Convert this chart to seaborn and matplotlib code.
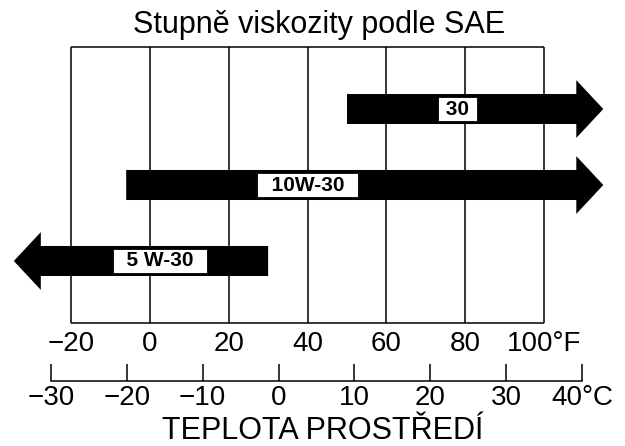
import matplotlib
matplotlib.use("Agg")
import numpy as np
import pandas as pd
import matplotlib.pyplot as plt
import seaborn as sns

# SAE grades and the temperature range each one covers (deg F)
grades = ["30", "10W-30", "5W-30"]
box_text = [" 30 ", "  10W-30  ", "  5 W-30  "]
start_f = [50, -6, 30]          # blunt end of the arrow
tip_f = [115, 115, -34.5]       # point of the arrow
label_f = [78, 40, 2.5]         # where the grade box sits

f_ticks = [-20, 0, 20, 40, 60, 80, 100]
f_labels = ["−20", "0", "20", "40", "60", "80", "100°F"]
c_ticks = [-30, -20, -10, 0, 10, 20, 30, 40]
c_labels = ["−30", "−20", "−10", "0", "10", "20", "30", "40°C"]

df = pd.DataFrame({"grade": grades, "text": box_text, "start": start_f,
                   "tip": tip_f, "label": label_f})

sns.set_theme(style="white")
plt.rcParams["font.family"] = ["Liberation Sans", "DejaVu Sans"]

fig = plt.figure(figsize=(6.25, 4.46), dpi=100)

# main panel, x in deg F, one row per grade
ax = fig.add_axes([0, 0.2758, 1, 0.6188])
ax.set_xlim(-38.0, 120.5)
y_lo, y_hi = 2.816, -0.816
ax.set_ylim(y_lo, y_hi)
for s in ax.spines.values():
    s.set_visible(False)
ax.patch.set_alpha(0)

ax.vlines(f_ticks, y_lo, y_hi, color="black", lw=1.1, clip_on=False)
ax.hlines([y_lo, y_hi], f_ticks[0], f_ticks[-1], color="black", lw=1.1, clip_on=False)

for i, r in df.iterrows():
    ax.arrow(r["start"], i, r["tip"] - r["start"], 0, width=0.395,
             head_width=0.76, head_length=6.85, length_includes_head=True,
             fc="black", ec="black", lw=0, zorder=3)
    ax.text(r["label"], i, r["text"], ha="center", va="center", fontsize=15,
            fontweight="bold", color="black", zorder=4,
            bbox=dict(boxstyle="square,pad=0.1", fc="white", ec="black", lw=0.6))

ax.set_xticks(f_ticks, f_labels)
ax.set_yticks([])
ax.tick_params(axis="x", bottom=True, length=0, pad=6, labelsize=20, labelcolor="black")

# Celsius scale underneath
axc = fig.add_axes([0, 0.1457, 1, 0.05])
axc.set_xlim(-36.72, 45.67)
axc.set_ylim(0, 1)
axc.patch.set_alpha(0)
for s in ["top", "left", "right"]:
    axc.spines[s].set_visible(False)
axc.spines["bottom"].set_bounds(c_ticks[0], c_ticks[-1])
axc.spines["bottom"].set_color("black")
axc.spines["bottom"].set_linewidth(1.1)
axc.set_xticks(c_ticks, c_labels)
axc.set_yticks([])
axc.tick_params(axis="x", bottom=True, direction="in", length=12.5, width=1.1,
                color="black", pad=3, labelsize=20, labelcolor="black")

fig.text(0.51, 0.926, "Stupně viskozity podle SAE", ha="center", va="baseline",
         fontsize=22, color="black")
fig.text(0.517, 0.016, "TEPLOTA PROSTŘEDÍ", ha="center", va="baseline",
         fontsize=22, color="black")

fig.savefig("out.png", dpi=100)
